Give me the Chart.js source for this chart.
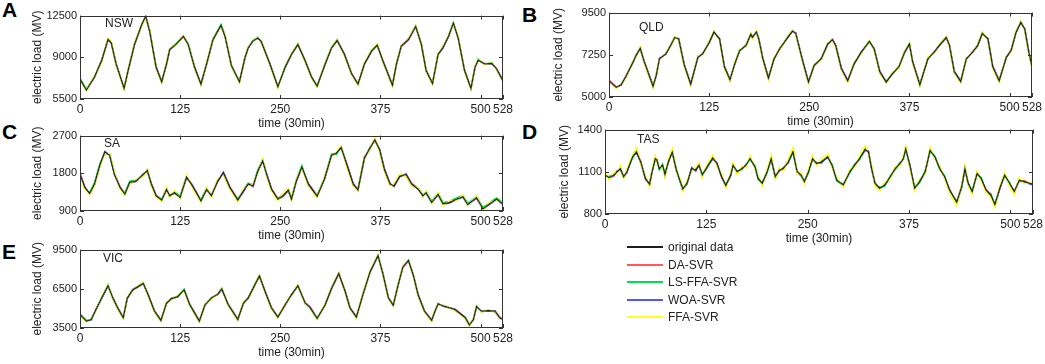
<!DOCTYPE html>
<html>
<head>
<meta charset="utf-8">
<script src="https://cdn.jsdelivr.net/npm/chart.js@4.4.0/dist/chart.umd.min.js"></script>
<style>
  body { margin: 0; width: 1045px; height: 364px; background: #fff; position: relative; overflow: hidden;
         font-family: "Liberation Sans", Arial, sans-serif; }
  .panel { position: absolute; }
  .letter { position: absolute; font-weight: bold; font-size: 21px; line-height: 21px; color: #000; }
  .region { position: absolute; font-size: 12px; line-height: 14px; color: #222; }
  .legend-row { position: absolute; left: 627px; height: 14px; font-size: 12px; line-height: 14px; color: #222; }
  .legend-row span.sw { position: absolute; left: 0; top: 6px; width: 36px; }
  .legend-row span.tx { position: absolute; left: 41px; top: 0; white-space: nowrap; }
</style>
</head>
<body>

<div class="letter" style="left:2px;top:-1px">A</div>
<div class="letter" style="left:522px;top:4px">B</div>
<div class="letter" style="left:2px;top:121px">C</div>
<div class="letter" style="left:522px;top:121px">D</div>
<div class="letter" style="left:2px;top:241px">E</div>

<canvas id="cA" class="panel"></canvas>
<canvas id="cB" class="panel"></canvas>
<canvas id="cC" class="panel"></canvas>
<canvas id="cD" class="panel"></canvas>
<canvas id="cE" class="panel"></canvas>

<div class="region" style="left:105px;top:16px">NSW</div>
<div class="region" style="left:639px;top:20px">QLD</div>
<div class="region" style="left:104px;top:136px">SA</div>
<div class="region" style="left:637px;top:132px">TAS</div>
<div class="region" style="left:103px;top:251px">VIC</div>

<div id="legend"></div>

<script>
// series names and colours
const seriesNames = ['original data', 'DA-SVR', 'LS-FFA-SVR', 'WOA-SVR', 'FFA-SVR'];
const seriesColors = ['#1e1e1e', '#ff5a5a', '#00e04a', '#5555ff', '#ffff1a'];
// draw order: lower = on top
const seriesOrder = [0, 4, 2, 3, 1];
const xTicks = [0, 125, 250, 375, 500, 528];

// NSW
const nswX = [0,8,18,27,35,39,45,55,60,68,77,82,87,95,102,108,112,120,129,135,143,151,158,166,176,181,189,199,206,210,216,222,226,237,247,256,264,272,281,289,296,306,314,321,330,339,347,355,364,371,378,390,395,401,410,419,426,432,440,447,453,460,466,472,480,488,493,497,505,514,520,528];
const nswOrig = [7150,6240,7340,8710,10500,10220,8440,6380,7890,10080,11730,12440,11180,8160,6930,8440,9670,10080,10770,10080,8160,6740,8440,10500,11680,10770,8300,6930,8990,9810,10360,10630,10360,8440,6520,8160,9260,10080,8710,7340,6570,8440,9810,10420,9260,7610,6740,8440,9540,10030,8710,6650,8440,9950,10500,11600,10080,7890,6790,9260,9810,10770,11870,10630,7890,6380,8160,8770,8440,8490,8020,7010];
const nswDA = [7180,6280,7300,8750,10460,10250,8480,6420,7850,10040,11700,12420,11230,8200,6970,8400,9640,10120,10730,10120,8200,6780,8400,10460,11640,10810,8340,6970,8950,9780,10400,10590,10400,8480,6560,8120,9230,10040,8750,7380,6610,8400,9780,10380,9300,7650,6780,8400,9500,10000,8750,6690,8400,9910,10460,11560,10120,7930,6830,9220,9780,10730,11830,10670,7930,6420,8120,8730,8480,8450,8060,7050];
const nswLS = [7250,6300,7380,8680,10550,10280,8400,6350,7950,10120,11780,12450,11250,8100,6900,8500,9700,10150,10800,10150,8100,6700,8500,10550,11750,10850,8250,6900,9050,9850,10400,10700,10300,8400,6480,8200,9300,10150,8650,7300,6530,8500,9850,10480,9200,7560,6700,8500,9600,10100,8650,6600,8500,10000,10550,11650,10150,7850,6750,9300,9850,10800,11900,10700,7850,6330,8200,8850,8400,8550,7980,6960];
const nswWOA = [7120,6260,7320,8730,10480,10200,8460,6400,7870,10060,11710,12470,11200,8180,6950,8420,9650,10100,10750,10100,8180,6760,8420,10480,11660,10790,8320,6950,8970,9790,10380,10610,10380,8460,6540,8140,9240,10060,8730,7360,6590,8420,9790,10400,9280,7630,6760,8420,9520,10010,8730,6670,8420,9930,10480,11580,10100,7910,6810,9240,9790,10750,11850,10650,7910,6400,8140,8750,8460,8470,8040,7030];
const nswFFA = [7100,6200,7400,8650,10560,10300,8380,6330,7940,10150,11680,12400,11280,8120,6880,8480,9720,10060,10820,10050,8120,6690,8480,10540,11620,10880,8260,6880,9040,9870,10320,10680,10420,8380,6470,8190,9310,10120,8670,7290,6520,8480,9860,10460,9220,7570,6690,8480,9590,10080,8660,6600,8480,9990,10540,11660,10040,7840,6740,9310,9860,10810,11820,10720,7840,6330,8200,8820,8400,8540,7980,6970];
const nswYTicks = [5500, 9000, 12500];

// QLD
const qldX = [0,9,15,21,30,34,39,44,55,59,63,71,77,82,87,94,102,111,117,125,131,138,144,151,157,163,171,177,179,184,187,192,199,206,213,223,229,233,242,249,256,265,273,279,283,290,298,306,315,325,331,338,346,354,362,369,375,379,388,398,406,412,421,425,431,439,446,454,460,466,473,479,487,496,502,508,514,519,524,528];
const qldOrig = [5860,5510,5650,6080,6870,7220,7600,6870,5560,6170,7040,7300,7740,8180,8090,6690,5680,7130,7300,7910,8470,8090,6610,5910,6780,7480,7740,8350,8180,8470,8090,7040,6000,7040,7560,8180,8520,8400,6870,5790,6690,7040,7830,8050,7740,6520,5860,6780,7390,7970,7560,6340,5790,6260,6610,7390,7830,6870,5650,7040,7390,7740,8180,7740,6340,5820,7040,7390,7740,8400,8090,6610,5860,7130,7480,8440,8990,8610,7390,6610];
const qldDA = [5900,5540,5620,6110,6840,7250,7570,6900,5600,6140,7070,7280,7770,8150,8120,6730,5720,7100,7330,7880,8440,8120,6650,5950,6750,7450,7770,8320,8210,8440,8120,7080,6040,7010,7590,8150,8490,8430,6910,5830,6660,7070,7800,8080,7770,6560,5900,6750,7420,7940,7590,6380,5830,6230,6640,7360,7800,6910,5690,7010,7420,7710,8150,7770,6380,5860,7010,7420,7710,8370,8120,6650,5900,7100,7510,8410,8960,8640,7430,6650];
const qldLS = [5820,5480,5690,6050,6900,7190,7640,6830,5520,6210,7010,7340,7710,8220,8050,6650,5640,7170,7270,7950,8500,8050,6570,5870,6820,7510,7710,8390,8140,8500,8050,7000,5960,7080,7530,8210,8560,8360,6830,5750,6730,7010,7860,8020,7700,6480,5820,6820,7360,8000,7530,6300,5750,6300,6580,7430,7860,6830,5610,7080,7360,7780,8210,7700,6300,5780,7080,7360,7780,8440,8050,6570,5820,7170,7450,8480,9030,8570,7350,6570];
const qldWOA = [5880,5520,5640,6090,6860,7230,7590,6880,5580,6160,7050,7290,7750,8170,8100,6710,5700,7120,7310,7900,8460,8100,6630,5930,6770,7470,7750,8340,8190,8460,8100,7060,6020,7030,7570,8170,8510,8410,6890,5810,6680,7050,7820,8060,7750,6540,5880,6770,7400,7960,7570,6360,5810,6250,6620,7380,7820,6890,5670,7030,7400,7730,8170,7750,6360,5840,7030,7400,7730,8390,8100,6630,5880,7120,7490,8430,8980,8620,7410,6630];
const qldFFA = [5840,5470,5700,6040,6920,7170,7650,6810,5510,6220,7000,7350,7700,8230,8030,6640,5630,7180,7260,7960,8520,8030,6560,5860,6830,7520,7700,8400,8120,8510,8030,6990,5950,7090,7520,8220,8570,8350,6820,5740,6740,7000,7870,8010,7690,6470,5810,6830,7350,8010,7520,6290,5740,6310,6570,7440,7870,6820,5600,7090,7350,7790,8220,7690,6290,5770,7090,7350,7790,8450,8030,6560,5810,7180,7440,8490,9040,8560,7340,6560];
const qldYTicks = [5000, 7250, 9500];

// SA
const saX = [0,6,12,18,25,31,37,43,50,56,62,70,79,84,89,95,102,108,112,118,125,133,139,145,151,158,164,172,179,187,197,204,210,216,222,228,233,239,247,253,260,264,270,277,285,291,296,305,314,320,326,333,341,347,355,362,368,374,380,387,392,399,407,414,422,428,432,439,447,453,461,470,478,484,495,503,511,520,528];
const saOrig = [1780,1460,1320,1540,2010,2310,2230,1770,1460,1300,1580,1620,1770,1870,1540,1260,1160,1420,1260,1340,1220,1710,1540,1340,1140,1420,1260,1620,1810,1460,1160,1380,1540,1500,1850,2100,1770,1420,1180,1260,1400,1180,1620,1950,1540,1380,1250,1660,2230,2280,2420,2010,1540,1400,2170,2400,2600,2360,1890,1540,1500,1730,1770,1540,1420,1260,1340,1100,1300,1070,1100,1180,1240,1050,1220,950,1070,1180,1070];
const saDA = [1800,1480,1300,1520,1990,2290,2250,1790,1480,1320,1560,1600,1790,1850,1560,1280,1180,1400,1280,1320,1240,1690,1560,1360,1160,1400,1280,1600,1830,1480,1180,1360,1560,1480,1870,2080,1790,1440,1200,1240,1380,1200,1600,1930,1560,1400,1270,1640,2210,2300,2400,2030,1560,1420,2150,2420,2580,2380,1910,1560,1480,1710,1790,1560,1440,1280,1320,1120,1280,1090,1120,1160,1260,1070,1200,970,1050,1200,1090];
const saLS = [1760,1430,1340,1570,2040,2270,2260,1810,1430,1330,1610,1640,1750,1890,1510,1240,1180,1450,1240,1370,1250,1740,1510,1320,1170,1450,1240,1650,1790,1430,1180,1410,1560,1530,1880,2130,1740,1390,1200,1290,1420,1200,1650,1980,1510,1360,1270,1690,2260,2250,2440,1980,1510,1420,2200,2370,2620,2330,1860,1510,1530,1760,1740,1510,1450,1240,1370,1130,1330,1100,1130,1210,1270,1080,1250,980,1100,1210,1100];
const saWOA = [1790,1470,1310,1530,2000,2320,2240,1780,1470,1290,1570,1610,1780,1860,1550,1270,1150,1410,1270,1330,1230,1700,1550,1350,1130,1410,1270,1610,1820,1470,1150,1370,1550,1490,1840,2110,1780,1430,1170,1250,1390,1170,1610,1940,1550,1390,1240,1650,2240,2290,2430,2020,1550,1390,2160,2410,2590,2370,1900,1550,1490,1720,1780,1550,1430,1270,1330,1090,1290,1060,1090,1170,1230,1040,1210,940,1060,1170,1060];
const saFFA = [1740,1420,1290,1510,1980,2280,2270,1820,1420,1280,1550,1650,1740,1900,1500,1230,1130,1460,1230,1380,1190,1750,1500,1310,1110,1460,1230,1660,1780,1420,1130,1420,1500,1540,1820,2140,1730,1380,1150,1300,1430,1150,1660,1920,1500,1350,1230,1700,2200,2310,2450,1970,1500,1380,2190,2380,2630,2320,1850,1500,1540,1770,1730,1500,1460,1230,1380,1080,1340,1030,1140,1150,1280,1020,1260,920,1110,1150,1110];
const saYTicks = [900, 1800, 2700];

// TAS
const tasX = [0,5,11,15,19,23,27,34,39,44,50,55,58,62,64,67,71,74,78,83,88,93,96,101,107,112,116,120,126,133,138,144,149,155,158,163,169,174,179,185,189,194,200,205,210,215,220,226,232,237,242,246,251,256,261,267,275,280,286,294,302,308,314,321,325,329,333,339,345,352,358,364,368,371,376,382,388,395,401,407,413,419,425,434,440,444,448,453,459,464,470,476,481,487,493,499,505,511,517,528];
const tasOrig = [1077,1058,1077,1100,1123,1065,1100,1205,1241,1170,1053,1011,1100,1194,1182,1123,1147,1081,1170,1241,1112,1030,978,1018,1123,1112,1147,1077,1135,1198,1159,1065,1002,1077,1147,1100,1123,1147,1194,1135,1053,1018,1100,1194,1065,1112,1123,1170,1241,1100,1077,1030,1100,1194,1159,1170,1205,1147,1041,1006,1100,1147,1194,1259,1241,1123,1018,983,1006,1065,1123,1159,1194,1264,1147,983,1030,1100,1252,1205,1123,1065,971,884,995,1123,1018,959,1088,1053,971,936,866,983,1077,1018,959,1041,1030,1011];
const tasDA = [1085,1050,1070,1108,1115,1072,1092,1212,1233,1178,1045,1019,1092,1202,1174,1131,1139,1089,1162,1249,1104,1038,986,1010,1131,1104,1155,1069,1143,1190,1167,1057,1010,1069,1155,1092,1131,1139,1202,1127,1061,1010,1108,1186,1073,1104,1131,1162,1249,1092,1085,1022,1108,1186,1167,1162,1213,1139,1049,998,1108,1139,1202,1251,1249,1115,1026,975,1014,1057,1131,1151,1202,1256,1155,975,1038,1092,1260,1197,1131,1057,979,876,1003,1115,1026,951,1096,1045,979,928,874,975,1085,1010,967,1033,1038,1003];
const tasLS = [1070,1066,1085,1092,1131,1058,1108,1198,1249,1162,1061,1003,1108,1186,1190,1115,1155,1073,1178,1233,1120,1022,970,1026,1115,1120,1139,1085,1127,1206,1151,1073,994,1085,1139,1108,1115,1155,1186,1143,1045,1026,1092,1202,1057,1120,1115,1178,1233,1108,1069,1038,1092,1202,1151,1178,1197,1155,1033,1014,1092,1155,1186,1267,1233,1131,1010,991,998,1073,1115,1167,1186,1272,1139,991,1022,1108,1244,1213,1115,1073,963,892,987,1131,1010,967,1080,1061,963,944,858,991,1069,1026,951,1049,1022,1019];
const tasWOA = [1073,1062,1073,1104,1119,1061,1096,1209,1237,1166,1049,1007,1104,1190,1186,1119,1143,1077,1166,1245,1108,1026,974,1014,1127,1108,1151,1073,1131,1194,1163,1061,998,1073,1151,1096,1127,1143,1198,1131,1049,1014,1104,1190,1061,1108,1127,1166,1245,1096,1073,1026,1104,1190,1163,1166,1209,1143,1037,1002,1104,1143,1198,1255,1245,1119,1014,979,1002,1061,1127,1155,1198,1260,1151,979,1026,1096,1256,1201,1127,1061,967,880,991,1119,1014,955,1092,1049,967,932,862,979,1081,1014,955,1037,1026,1007];
const tasFFA = [1095,1045,1095,1085,1145,1050,1120,1225,1270,1155,1070,995,1125,1215,1165,1140,1130,1065,1190,1265,1095,1050,965,1040,1105,1135,1165,1060,1155,1220,1140,1085,985,1095,1165,1080,1145,1130,1215,1115,1075,1000,1120,1220,1050,1130,1105,1190,1275,1085,1095,1015,1120,1215,1145,1190,1225,1130,1060,990,1120,1130,1215,1285,1230,1140,1000,965,1025,1050,1140,1145,1215,1280,1130,965,1050,1085,1275,1190,1140,1050,955,860,1010,1140,1000,940,1105,1035,955,915,845,1000,1095,1000,940,1060,1015,1030];
const tasYTicks = [800, 1100, 1400];

// VIC
const vicX = [0,8,14,20,27,35,41,47,54,59,66,72,79,85,93,101,108,114,122,130,137,149,156,164,172,177,185,197,204,210,218,224,231,239,247,256,264,272,281,287,296,306,314,323,331,337,345,353,362,372,378,385,391,397,403,410,416,422,430,439,443,447,455,468,476,481,486,491,495,501,510,518,524,528];
const vicOrig = [4530,4030,4150,4910,5790,6740,5790,5030,4280,5790,6410,6660,6920,6040,4780,4080,5410,5740,5910,6410,5280,4030,5280,5790,6090,6490,5280,4150,5410,5790,6790,7490,6290,5030,4330,5280,6040,6740,5410,5080,4230,5280,6540,7670,6290,5030,4330,6040,7790,9050,7670,5790,5230,6790,8170,8670,7540,6040,4780,4080,4780,5330,5160,4910,4530,4280,3730,4150,5160,4780,4830,4780,4280,4150];
const vicDA = [4570,4070,4110,4950,5750,6700,5830,5070,4320,5750,6450,6620,6880,6080,4820,4120,5370,5780,5870,6450,5320,4070,5240,5830,6050,6450,5320,4190,5370,5830,6750,7450,6330,5070,4370,5240,6080,6700,5450,5120,4270,5240,6500,7630,6330,5070,4370,6000,7750,9010,7710,5830,5270,6750,8130,8630,7580,6080,4820,4120,4740,5370,5120,4950,4570,4320,3770,4110,5120,4820,4790,4820,4320,4190];
const vicLS = [4480,3990,4200,4860,5840,6790,5740,4980,4240,5840,6460,6700,6970,5990,4730,4040,5460,5700,5960,6460,5230,3990,5330,5740,6140,6540,5230,4110,5460,5740,6840,7540,6240,4980,4290,5330,5990,6790,5360,5030,4190,5330,6590,7720,6240,4980,4290,6090,7840,9100,7620,5740,5190,6840,8220,8720,7490,5990,4730,4040,4830,5280,5210,4860,4480,4240,3690,4200,5210,4730,4880,4730,4240,4110];
const vicWOA = [4550,4050,4130,4930,5770,6720,5810,5050,4300,5770,6430,6640,6900,6060,4800,4100,5390,5760,5890,6430,5300,4050,5260,5810,6070,6470,5300,4170,5390,5810,6770,7470,6310,5050,4350,5260,6060,6720,5430,5100,4250,5260,6520,7650,6310,5050,4350,6020,7770,9030,7690,5810,5250,6770,8150,8650,7560,6060,4800,4100,4760,5350,5140,4930,4550,4300,3750,4130,5140,4800,4810,4800,4300,4170];
const vicFFA = [4500,4000,4190,4870,5830,6780,5750,4990,4250,5830,6370,6710,6960,6000,4740,4050,5450,5710,5950,6370,5240,4000,5320,5750,6130,6530,5240,4120,5450,5750,6830,7530,6250,4990,4300,5320,6000,6780,5370,5040,4200,5320,6580,7710,6250,4990,4300,6080,7830,9090,7630,5750,5200,6830,8210,8710,7500,6000,4740,4050,4820,5290,5200,4870,4490,4250,3700,4190,5200,4740,4870,4740,4250,4120];
const vicYTicks = [3500, 6500, 9500];

// panel placement: plot area left, top, width, height (px) and y-title offset
const panels = [
  { id: 'cA', x: nswX, ys: [nswOrig, nswDA, nswLS, nswWOA, nswFFA], yTicks: nswYTicks, box: [80, 14, 423, 85], tpad: 10 },
  { id: 'cB', x: qldX, ys: [qldOrig, qldDA, qldLS, qldWOA, qldFFA], yTicks: qldYTicks, box: [609, 11, 423, 86], tpad: 2 },
  { id: 'cC', x: saX, ys: [saOrig, saDA, saLS, saWOA, saFFA], yTicks: saYTicks, box: [80, 134, 423, 77], tpad: 10 },
  { id: 'cD', x: tasX, ys: [tasOrig, tasDA, tasLS, tasWOA, tasFFA], yTicks: tasYTicks, box: [605, 128, 428, 86], tpad: 12 },
  { id: 'cE', x: vicX, ys: [vicOrig, vicDA, vicLS, vicWOA, vicFFA], yTicks: vicYTicks, box: [80, 248, 423, 80], tpad: 10 }
];

const Y_W = 60, X_H = 32, PAD_T = 8, PAD_R = 15;

// box + inward tick marks, matlab style
const framePlugin = {
  id: 'frame',
  afterDraw(chart) {
    const { ctx, chartArea: a, scales: { x, y } } = chart;
    ctx.save();
    ctx.strokeStyle = '#333';
    ctx.lineWidth = 1;
    ctx.strokeRect(Math.round(a.left) + 0.5, Math.round(a.top) + 0.5, Math.round(a.width) - 1, Math.round(a.height) - 1);
    ctx.beginPath();
    x.ticks.forEach(t => {
      const px = Math.round(x.getPixelForValue(t.value)) + 0.5;
      ctx.moveTo(px, a.bottom); ctx.lineTo(px, a.bottom - 4);
      ctx.moveTo(px, a.top); ctx.lineTo(px, a.top + 4);
    });
    y.ticks.forEach(t => {
      const py = Math.round(y.getPixelForValue(t.value)) + 0.5;
      ctx.moveTo(a.left, py); ctx.lineTo(a.left + 4, py);
      ctx.moveTo(a.right, py); ctx.lineTo(a.right - 4, py);
    });
    ctx.stroke();
    ctx.restore();
  }
};

panels.forEach(p => {
  const [L, T, W, H] = p.box;
  const cv = document.getElementById(p.id);
  cv.width = W + Y_W + PAD_R;
  cv.height = H + PAD_T + X_H;
  cv.style.left = (L - Y_W) + 'px';
  cv.style.top = (T - PAD_T) + 'px';

  const datasets = p.ys.map((vals, i) => ({
    label: seriesNames[i],
    data: p.x.map((xv, j) => ({ x: xv, y: vals[j] })),
    borderColor: seriesColors[i],
    borderWidth: i === 0 ? 1.1 : 1.5,
    order: seriesOrder[i],
    pointRadius: 0,
    tension: 0,
    fill: false
  }));

  new Chart(cv.getContext('2d'), {
    type: 'line',
    data: { datasets },
    options: {
      responsive: false,
      animation: false,
      layout: { padding: { top: PAD_T, right: PAD_R, left: 0, bottom: 0 } },
      plugins: { legend: { display: false }, tooltip: { enabled: false } },
      scales: {
        x: {
          type: 'linear', min: 0, max: 528,
          afterBuildTicks: s => { s.ticks = xTicks.map(v => ({ value: v })); },
          afterFit: s => { s.height = X_H; },
          grid: { display: false, drawTicks: false },
          border: { display: false },
          ticks: { autoSkip: false, maxRotation: 0, padding: 3, color: '#222',
                   callback: v => String(v),
                   font: { family: 'Liberation Sans', size: 12 } },
          title: { display: true, text: 'time (30min)', color: '#222', padding: { top: 1, bottom: 0 },
                   font: { family: 'Liberation Sans', size: 12 } }
        },
        y: {
          min: p.yTicks[0], max: p.yTicks[p.yTicks.length - 1],
          afterBuildTicks: s => { s.ticks = p.yTicks.map(v => ({ value: v })); },
          afterFit: s => { s.width = Y_W; },
          grid: { display: false, drawTicks: false },
          border: { display: false },
          ticks: { padding: 3, color: '#222', callback: v => String(v),
                   font: { family: 'Liberation Sans', size: 11 } },
          title: { display: true, text: 'electric load (MV)', color: '#222', padding: { top: p.tpad, bottom: 0 },
                   font: { family: 'Liberation Sans', size: 12 } }
        }
      }
    },
    plugins: [framePlugin]
  });
});

// legend block
const legend = document.getElementById('legend');
seriesNames.forEach((name, i) => {
  const row = document.createElement('div');
  row.className = 'legend-row';
  row.style.top = (240 + i * 17.5) + 'px';
  const sw = document.createElement('span');
  sw.className = 'sw';
  sw.style.borderTop = (i === 0 ? 2.5 : 2) + 'px solid ' + seriesColors[i];
  const tx = document.createElement('span');
  tx.className = 'tx';
  tx.textContent = name;
  row.appendChild(sw);
  row.appendChild(tx);
  legend.appendChild(row);
});
</script>
</body>
</html>
